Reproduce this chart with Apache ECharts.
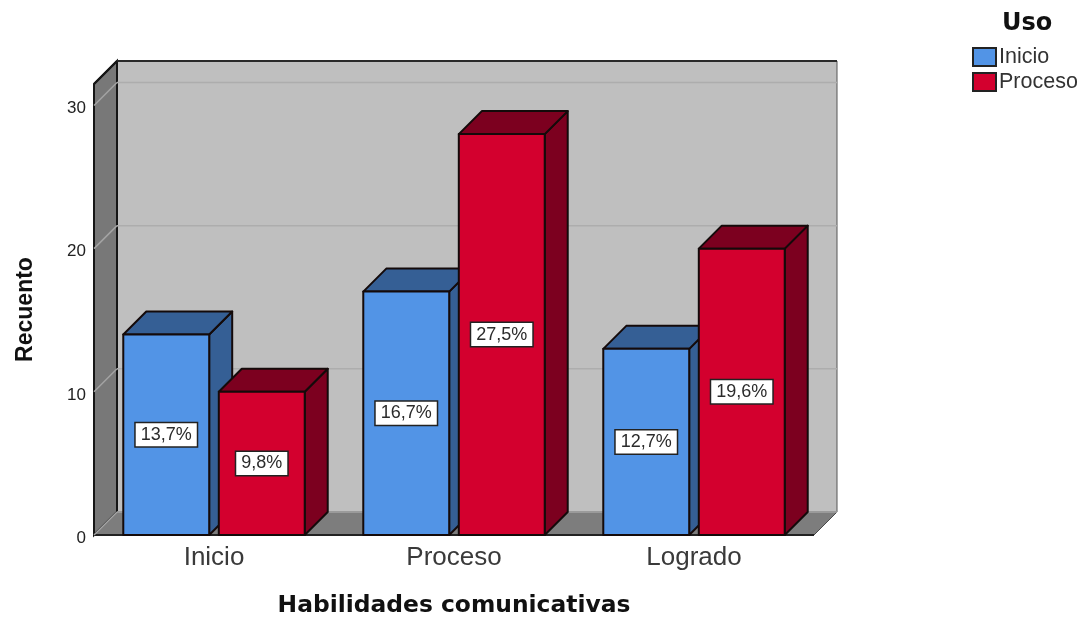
<!DOCTYPE html>
<html>
<head>
<meta charset="utf-8">
<style>html,body{margin:0;padding:0;background:#fff}#c{width:1088px;height:619px}</style>
<script src="https://cdn.jsdelivr.net/npm/echarts@6/dist/echarts.min.js"></script>
</head>
<body>
<div id="c"></div>
<script>
const categories = ['Inicio', 'Proceso', 'Logrado'];
const inicioValues = [14, 17, 13];
const procesoValues = [10, 28, 20];
const inicioLabels = ['13,7%', '16,7%', '12,7%'];
const procesoLabels = ['9,8%', '27,5%', '19,6%'];
const yTicks = [0, 10, 20, 30];
const axisMax = 31.5;
const depth = 23;
const font = '"Liberation Sans", Arial, sans-serif';
const wideFont = '"DejaVu Sans", sans-serif';
const edge = '#161616';

function wallItem(params, api) {
  const g = params.coordSys;
  const l = g.x, r = g.x + g.width, t = g.y, b = g.y + g.height;
  const d = depth;
  return {
    type: 'group',
    children: [
      { type: 'rect', shape: { x: l + d, y: t - d, width: g.width, height: g.height },
        style: { fill: '#bfbfbf', stroke: '#555', lineWidth: 1 } },
      { type: 'polygon', shape: { points: [[l, t], [l + d, t - d], [l + d, b - d], [l, b]] },
        style: { fill: '#787878', stroke: edge, lineWidth: 2 } },
      { type: 'polygon', shape: { points: [[l, b], [l + d, b - d], [r + d, b - d], [r, b]] },
        style: { fill: '#7d7d7d', stroke: '#4a4a4a', lineWidth: 1 } },
      { type: 'line', shape: { x1: l + d, y1: t - d, x2: r + d, y2: t - d },
        style: { stroke: '#2a2a2a', lineWidth: 2 } },
      { type: 'line', shape: { x1: l, y1: b, x2: r, y2: b },
        style: { stroke: '#222', lineWidth: 2 } },
      { type: 'line', shape: { x1: l, y1: t, x2: l + d, y2: t - d },
        style: { stroke: edge, lineWidth: 2 } }
    ]
  };
}

function gridItem(params, api) {
  const g = params.coordSys;
  const y = api.coord([0, api.value(0)])[1];
  const l = g.x, r = g.x + g.width, d = depth;
  return {
    type: 'group',
    children: [
      { type: 'line', shape: { x1: l, y1: y, x2: l + d, y2: y - d },
        style: { stroke: '#a4a4a4', lineWidth: 1.5 } },
      { type: 'line', shape: { x1: l + d, y1: y - d, x2: r + d, y2: y - d },
        style: { stroke: '#adadad', lineWidth: 1.5 } }
    ]
  };
}

function barRenderer(seriesPos, front, top, side, labels) {
  return function (params, api) {
    const base = api.coord([api.value(0), 0]);
    const peak = api.coord([api.value(0), api.value(1)]);
    const band = api.size([1, 0])[0];
    const w = band * 0.358;
    const gap = band * 0.04;
    const x = seriesPos === 0 ? base[0] - gap / 2 - w : base[0] + gap / 2;
    const yt = peak[1], yb = base[1], d = depth;
    const ln = { stroke: '#140a0a', lineWidth: 2, lineJoin: 'round' };
    return {
      type: 'group',
      children: [
        { type: 'polygon', shape: { points: [[x + w, yt], [x + w + d, yt - d], [x + w + d, yb - d], [x + w, yb]] },
          style: Object.assign({ fill: side }, ln) },
        { type: 'polygon', shape: { points: [[x, yt], [x + d, yt - d], [x + w + d, yt - d], [x + w, yt]] },
          style: Object.assign({ fill: top }, ln) },
        { type: 'rect', shape: { x: x, y: yt, width: w, height: yb - yt },
          style: Object.assign({ fill: front }, ln) },
        { type: 'text', x: x + w / 2, y: (yt + yb) / 2,
          style: { text: labels[params.dataIndex], fill: '#2b2b2b', font: '18px ' + font,
            align: 'center', verticalAlign: 'middle', backgroundColor: '#fff',
            borderColor: '#222', borderWidth: 1.5, padding: [3, 5, 2, 5] } }
      ]
    };
  };
}

const chart = echarts.init(document.getElementById('c'));
chart.setOption({
  animation: false,
  backgroundColor: '#fff',
  title: {
    text: 'Uso', left: 997, top: 7,
    textStyle: { fontFamily: wideFont, fontWeight: 'bold', fontSize: 24, color: '#111' }
  },
  legend: {
    left: 967, top: 41, orient: 'vertical', itemWidth: 23, itemHeight: 18, itemGap: 3,
    data: ['Inicio', 'Proceso'], icon: 'rect', selectedMode: false,
    textStyle: { fontFamily: font, fontSize: 21.5, color: '#333', padding: [3, 0, 0, -2] },
    itemStyle: { borderColor: '#222', borderWidth: 2 }
  },
  grid: { left: 94, right: 274, top: 84, bottom: 84, containLabel: false, outerBoundsMode: 'none' },
  xAxis: {
    type: 'category', data: categories,
    name: 'Habilidades comunicativas', nameLocation: 'middle', nameGap: 59,
    nameTextStyle: { fontFamily: wideFont, fontWeight: 'bold', fontSize: 23.4, color: '#111' },
    axisLine: { show: false }, axisTick: { show: false },
    axisLabel: { fontFamily: font, fontSize: 26, color: '#3a3a3a', margin: 10 }
  },
  yAxis: {
    type: 'value', min: 0, max: axisMax, interval: 10,
    name: 'Recuento', nameLocation: 'middle', nameGap: 57,
    nameTextStyle: { fontFamily: font, fontWeight: 'bold', fontSize: 23, color: '#111' },
    axisLine: { show: false }, axisTick: { show: false }, splitLine: { show: false },
    axisLabel: { margin: 8, showMaxLabel: false,
      formatter: v => '{t|' + v + '}',
      rich: { t: { fontFamily: font, fontSize: 17, color: '#222', padding: [6, 0, 0, 0] } } }
  },
  series: [
    { type: 'custom', silent: true, z: 1, renderItem: wallItem, data: [[0]], clip: false,
      encode: { x: -1, y: -1 } },
    { type: 'custom', silent: true, z: 2, renderItem: gridItem, data: yTicks.map(v => [v]), clip: false,
      encode: { x: -1, y: -1 } },
    { name: 'Inicio', type: 'custom', z: 3, clip: false,
      itemStyle: { color: '#5294e6' },
      renderItem: barRenderer(0, '#5294e6', '#355f95', '#355f95', inicioLabels),
      encode: { x: 0, y: 1 },
      data: inicioValues.map((v, i) => [i, v]) },
    { name: 'Proceso', type: 'custom', z: 4, clip: false,
      itemStyle: { color: '#d3002e' },
      renderItem: barRenderer(1, '#d3002e', '#7c001f', '#7c001f', procesoLabels),
      encode: { x: 0, y: 1 },
      data: procesoValues.map((v, i) => [i, v]) }
  ]
});
</script>
</body>
</html>
